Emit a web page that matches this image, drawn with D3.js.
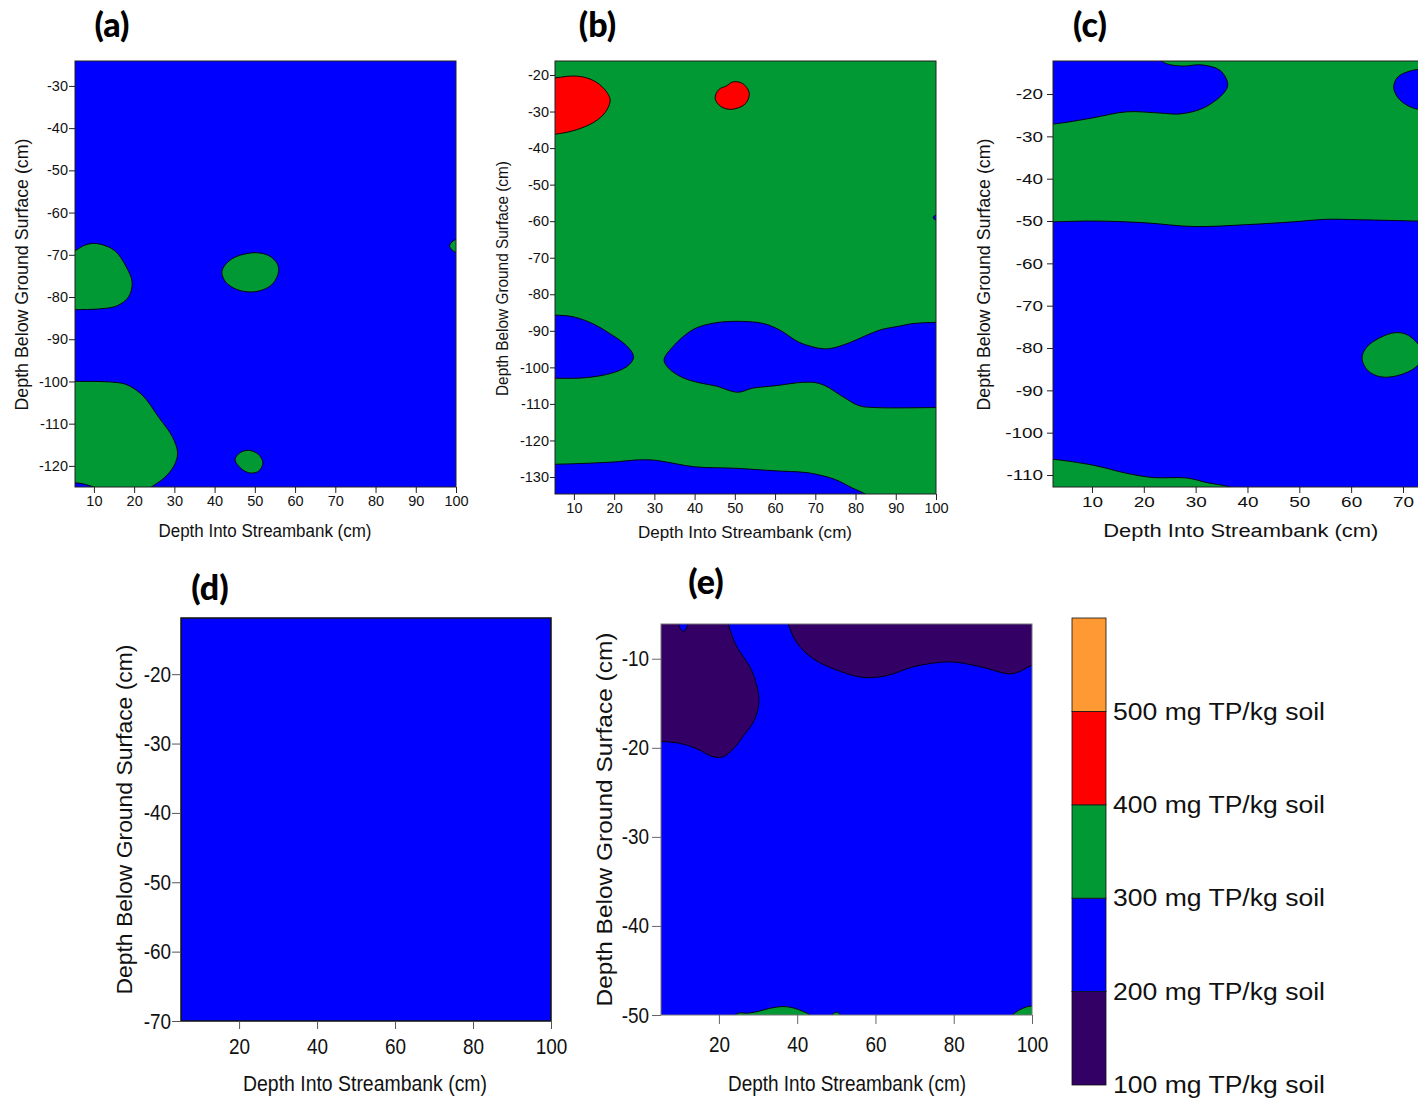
<!DOCTYPE html>
<html>
<head>
<meta charset="utf-8">
<script src="https://cdn.jsdelivr.net/npm/d3@7"></script>
<style>
  body { margin: 0; background: #fff; }
  svg text { font-family: "Liberation Sans", Arial, sans-serif; fill: #111; }
  svg .panelLabel { font-family: Lato, "Open Sans", sans-serif; font-weight: 900; fill: #000; }
</style>
</head>
<body>
<div id="chart"></div>
<script>
// Class colours (mg TP/kg soil)
const legendLevels = [100, 200, 300, 400, 500, 600];
const bandColors = ["#330066", "#0000ff", "#009933", "#ff0000", "#ff9933"];
const legendLabels = ["100 mg TP/kg soil", "200 mg TP/kg soil", "300 mg TP/kg soil", "400 mg TP/kg soil", "500 mg TP/kg soil"];

// Tick values
const aXTicks = [10, 20, 30, 40, 50, 60, 70, 80, 90, 100];
const aYTicks = [-30, -40, -50, -60, -70, -80, -90, -100, -110, -120];
const bXTicks = [10, 20, 30, 40, 50, 60, 70, 80, 90, 100];
const bYTicks = [-20, -30, -40, -50, -60, -70, -80, -90, -100, -110, -120, -130];
const cXTicks = [10, 20, 30, 40, 50, 60, 70];
const cYTicks = [-20, -30, -40, -50, -60, -70, -80, -90, -100, -110];
const dXTicks = [20, 40, 60, 80, 100];
const dYTicks = [-20, -30, -40, -50, -60, -70];
const eXTicks = [20, 40, 60, 80, 100];
const eYTicks = [-10, -20, -30, -40, -50];

// Contour regions: [depth into streambank (cm), depth below ground surface (cm)]
// panel (a)
const aGreenUpperLeft = [[2,-69.5],[5.3,-69],[7.5,-67.8],[10,-67.3],[13,-67.9],[15.5,-69.3],[18,-72.8],[19.5,-76.5],[18.6,-80],[15.7,-82.1],[11.6,-82.8],[5.3,-83],[2,-83]];
const aGreenMiddle = [[41.8,-74],[43.2,-71.8],[45.5,-70.4],[50,-69.5],[53.5,-70.2],[55.5,-72],[55.9,-74],[54.5,-76.8],[52,-78.3],[49,-78.8],[45.5,-78.2],[42.8,-76.5]];
const aGreenEdge = [[100,-66.4],[98.4,-67.9],[100,-69.4],[101.6,-67.9]];
const aGreenLowerLeft = [[2,-100],[5.3,-100],[10,-100],[15,-100.2],[18,-100.7],[22,-103.2],[26.2,-108.6],[29.5,-113.1],[30.8,-116.9],[29.9,-120],[27.4,-122.9],[24,-125.2],[22,-127]];
const aGreenLowerLeftClose = [[2,-128]];
const aBlueCorner = [[2,-123.9],[5.3,-124],[7,-124.2],[9,-124.7],[10.5,-125.3],[12,-126.5]];
const aBlueCornerClose = [[2,-128]];
const aGreenSmall = [[45.1,-118.5],[46.3,-116.9],[48.4,-116.3],[50.8,-117.2],[52,-119.2],[51,-121.2],[49,-121.7],[46.8,-120.8]];

// panel (b)
const bRedUpperLeft = [[2,-20.8],[5.3,-20.8],[8,-20.4],[10.6,-20.3],[14,-21.1],[17,-23.2],[19,-26.7],[17.8,-30.2],[15,-32.9],[10.6,-35],[6.7,-36],[5.3,-36.2],[2,-36.3]];
const bRedSmall = [[45.1,-26.4],[46,-24],[47.9,-23],[49.5,-21.9],[51.5,-22.1],[53,-23.5],[53.6,-25.4],[52.5,-28],[49.2,-29.4],[46.5,-28.6]];
const bBlueSpeck = [[100,-58.3],[99.3,-59],[100,-59.7],[100.7,-59]];
const bBlueLeft = [[2,-85.7],[5.3,-85.7],[10,-86.2],[15,-88.2],[19,-90.8],[22.5,-93.5],[24.5,-96],[24.8,-97.5],[23.5,-99.5],[21,-101],[17,-102.2],[12,-102.9],[5.3,-103],[2,-103]];
const bBlueMiddle = [[103,-87.7],[100,-87.7],[94.3,-88],[91,-88.7],[86,-89.8],[78.6,-93.2],[74.4,-94.7],[71.9,-94.9],[66.1,-93.2],[61.2,-89.8],[57.1,-88],[50.5,-87.4],[44.7,-87.9],[39.7,-89.6],[34.8,-94.1],[32.4,-98],[33.7,-100.4],[37,-102.8],[41.1,-104.2],[45.3,-105.1],[50.7,-106.8],[54.4,-105.7],[60.2,-105],[66.8,-104.1],[70.1,-104.2],[72.6,-105.1],[76.8,-108],[80.9,-110.5],[85,-111],[100,-111],[103,-111]];
const bBlueBottom = [[2,-126.5],[5.3,-126.5],[12,-126.3],[19.7,-125.9],[26.3,-125.3],[30,-125.4],[33,-125.9],[40,-127.2],[50,-127.6],[60,-128.3],[67,-128.7],[70,-129.2],[75,-130.7],[79.2,-133],[82.5,-134.7],[84,-136]];
const bBlueBottomClose = [[2,-137]];

// panel (c)
const cGreenUpper = [[0,-50.2],[2.5,-50.2],[10.3,-50],[20,-50.4],[29.6,-51.3],[39.2,-50.9],[48.8,-50.2],[55.2,-49.6],[61.6,-49.7],[72.6,-50],[75,-50]];
const cGreenUpperClose = [[75,-10],[0,-10]];
const cBlueTopLeft = [[22,-10],[23.5,-12.2],[24.5,-12.9],[27.6,-13.4],[31,-13.1],[34.7,-14.4],[36.2,-17.7],[35.4,-19.8],[31.5,-23.3],[27,-24.7],[23.1,-24.5],[16.7,-24.2],[10.3,-25.6],[5,-26.7],[2.5,-27.1],[0,-27.5]];
const cBlueTopLeftClose = [[0,-10]];
const cBlueTopRight = [[68.2,-18.3],[69,-16],[71,-14.7],[73.5,-14.2],[76,-15],[77,-18.5],[76,-22],[73.5,-23.6],[71,-22.8],[69,-20.8]];
const cGreenRight = [[62.1,-82.4],[63,-79.8],[65.5,-77.6],[68.3,-76.4],[70.5,-76.7],[72.5,-78.5],[74,-81.5],[72.5,-84.5],[69,-86.5],[65.7,-86.8],[63.2,-85.3]];
const cGreenBottom = [[0,-106.2],[2.5,-106.3],[10.3,-107.7],[16.7,-109.6],[21.8,-110.6],[28.3,-110.7],[32.2,-111.8],[36.7,-112.9],[38,-114]];
const cGreenBottomClose = [[0,-115]];

// panel (e)
const ePurpleLeft = [[21.5,-4],[22.4,-6.1],[24.5,-8.6],[27.9,-10.9],[29.6,-12.9],[30.2,-14.4],[30,-15.6],[28.8,-17.1],[26.2,-18.7],[23.7,-20.1],[21.1,-21],[18.5,-21],[14.3,-20.1],[10,-19.5],[5.2,-19.3],[3,-19.3]];
const ePurpleLeftClose = [[3,-4]];
const eBlueNotch = [[9.8,-5.5],[10.1,-6.6],[11,-6.95],[11.8,-6.5],[12,-5.5]];
const ePurpleRight = [[36.5,-4.5],[37.7,-6.1],[39.9,-8.2],[44.1,-10],[50.9,-11.4],[56.9,-12.1],[62.9,-11.9],[69.7,-10.9],[79.1,-10.35],[86.8,-10.9],[94.4,-11.7],[97,-11.4],[99.2,-10.9],[100.2,-10.7],[102,-10.5]];
const ePurpleRightClose = [[102,-4]];
const eGreenHill = [[23,-50.5],[24.5,-49.9],[25.3,-49.75],[27,-49.8],[30,-49.6],[33,-49.25],[36.4,-49.05],[39,-49.2],[41.5,-49.6],[43.3,-50],[44,-50.5]];
const eGreenBump = [[48.7,-50.5],[49.3,-49.8],[50.3,-49.7],[51,-50],[51.3,-50.5]];
const eGreenRight = [[94,-50.5],[95,-50],[96.5,-49.5],[98.5,-49.1],[100,-49],[102,-49]];
const eGreenRightClose = [[102,-51]];

const BLUE = bandColors[1], GREEN = bandColors[2], RED = bandColors[3], PURPLE = bandColors[0];

// Canvas
const svg = d3.select("#chart")
    .append("svg")
    .attr("width", 1418)
    .attr("height", 1102);

function stretch(sel, k) {
    sel.each(function() {
        const w = this.getComputedTextLength();
        d3.select(this).attr("textLength", w * k).attr("lengthAdjust", "spacingAndGlyphs");
    });
}

function drawPanel(p) {
    const g = svg.append("g");

    const xScale = d3.scaleLinear().domain(p.xDomain).range([p.box.left, p.box.right]);
    const yScale = d3.scaleLinear().domain(p.yDomain).range([p.box.bottom, p.box.top]);

    const clipId = "clip-" + p.id;
    g.append("clipPath").attr("id", clipId)
        .append("rect")
        .attr("x", p.box.left).attr("y", p.box.top)
        .attr("width", p.box.right - p.box.left)
        .attr("height", p.box.bottom - p.box.top);

    const plot = g.append("g").attr("clip-path", `url(#${clipId})`);

    plot.append("rect")
        .attr("x", p.box.left).attr("y", p.box.top)
        .attr("width", p.box.right - p.box.left)
        .attr("height", p.box.bottom - p.box.top)
        .attr("fill", p.base);

    const openLine = d3.line()
        .x(function(d) { return xScale(d[0]); })
        .y(function(d) { return yScale(d[1]); })
        .curve(d3.curveCatmullRom.alpha(0.5));
    const closedLine = d3.line()
        .x(function(d) { return xScale(d[0]); })
        .y(function(d) { return yScale(d[1]); })
        .curve(d3.curveCatmullRomClosed.alpha(0.5));

    p.regions.forEach(function(r) {
        if (r.closed) {
            plot.append("path")
                .attr("d", closedLine(r.pts))
                .attr("fill", r.color)
                .attr("stroke", "#000")
                .attr("stroke-width", 0.9);
        } else {
            const tail = (r.close || []).map(function(c) { return `L${xScale(c[0])},${yScale(c[1])}`; }).join("");
            plot.append("path")
                .attr("d", openLine(r.pts) + tail + "Z")
                .attr("fill", r.color)
                .attr("stroke", "none");
            plot.append("path")
                .attr("d", openLine(r.pts))
                .attr("fill", "none")
                .attr("stroke", "#000")
                .attr("stroke-width", 0.9);
        }
    });

    // frame
    g.append("rect")
        .attr("x", p.box.left).attr("y", p.box.top)
        .attr("width", p.box.right - p.box.left + (p.openRight ? 10 : 0))
        .attr("height", p.box.bottom - p.box.top)
        .attr("fill", "none")
        .attr("stroke", p.frameColor)
        .attr("stroke-width", p.frameWidth);

    // Axes
    const xAxis = g.append("g")
        .attr("transform", `translate(0,${p.box.bottom})`)
        .call(d3.axisBottom(xScale).tickValues(p.xTicks).tickSize(p.xTick[0]).tickPadding(p.xTick[1]).tickFormat(function(d) { return String(d); }));
    const yAxis = g.append("g")
        .attr("transform", `translate(${p.box.left},0)`)
        .call(d3.axisLeft(yScale).tickValues(p.yTicks).tickSize(p.yTick[0]).tickPadding(p.yTick[1]).tickFormat(function(d) { return String(d); }));

    [xAxis, yAxis].forEach(function(ax) {
        ax.select(".domain").remove();
        ax.selectAll("line").attr("stroke", p.tickColor);
        ax.selectAll("text")
            .attr("fill", "#111")
            .style("font-family", '"Liberation Sans", Arial, sans-serif')
            .style("font-size", p.tickFont + "px");
        stretch(ax.selectAll("text"), p.tickStretch);
    });

    // Axis titles
    g.append("text")
        .attr("x", p.xTitle[0]).attr("y", p.xTitle[1])
        .attr("dy", "0.35em")
        .attr("text-anchor", "middle")
        .style("font-size", p.titleFont + "px")
        .attr("textLength", p.xTitle[2]).attr("lengthAdjust", "spacingAndGlyphs")
        .text("Depth Into Streambank (cm)");

    g.append("text")
        .attr("transform", `translate(${p.yTitle[0]},${p.yTitle[1]}) rotate(-90)`)
        .attr("dy", "0.35em")
        .attr("text-anchor", "middle")
        .style("font-size", p.titleFont + "px")
        .attr("textLength", p.yTitle[2]).attr("lengthAdjust", "spacingAndGlyphs")
        .text("Depth Below Ground Surface (cm)");

    // Panel letter
    g.append("text")
        .attr("class", "panelLabel")
        .attr("x", p.label[0]).attr("y", p.label[1])
        .attr("text-anchor", "middle")
        .style("font-size", "34px")
        .text(p.letter);
}

drawPanel({
    id: "a", letter: "(a)", label: [112, 37],
    box: {left: 75, right: 456, top: 61, bottom: 487},
    xDomain: [5.3, 100], yDomain: [-125, -24.1],
    xTicks: aXTicks, yTicks: aYTicks,
    base: BLUE,
    regions: [
        {pts: aGreenUpperLeft, color: GREEN},
        {pts: aGreenMiddle, color: GREEN, closed: true},
        {pts: aGreenEdge, color: GREEN, closed: true},
        {pts: aGreenLowerLeft, close: aGreenLowerLeftClose, color: GREEN},
        {pts: aBlueCorner, close: aBlueCornerClose, color: BLUE},
        {pts: aGreenSmall, color: GREEN, closed: true}
    ],
    frameColor: "#222", frameWidth: 1,
    tickColor: "#222", tickFont: 14.5, tickStretch: 1,
    xTick: [6, 3], yTick: [6, 1],
    titleFont: 17.5,
    xTitle: [265, 531, 213], yTitle: [21.7, 274.5, 272]
});

drawPanel({
    id: "b", letter: "(b)", label: [597.5, 37],
    box: {left: 555, right: 936, top: 61, bottom: 494},
    xDomain: [5.3, 100], yDomain: [-134.65, -16.17],
    xTicks: bXTicks, yTicks: bYTicks,
    base: GREEN,
    regions: [
        {pts: bRedUpperLeft, color: RED},
        {pts: bRedSmall, color: RED, closed: true},
        {pts: bBlueSpeck, color: BLUE, closed: true},
        {pts: bBlueLeft, color: BLUE},
        {pts: bBlueMiddle, color: BLUE},
        {pts: bBlueBottom, close: bBlueBottomClose, color: BLUE}
    ],
    frameColor: "#222", frameWidth: 1,
    tickColor: "#222", tickFont: 14.5, tickStretch: 1,
    xTick: [6, 3], yTick: [5, 1],
    titleFont: 17,
    xTitle: [745, 532, 214], yTitle: [501.7, 278.5, 235]
});

drawPanel({
    id: "c", letter: "(c)", label: [1090, 37], openRight: true,
    box: {left: 1053, right: 1418, top: 61, bottom: 487},
    xDomain: [2.48, 72.9], yDomain: [-112.83, -12.2],
    xTicks: cXTicks, yTicks: cYTicks,
    base: BLUE,
    regions: [
        {pts: cGreenUpper, close: cGreenUpperClose, color: GREEN},
        {pts: cBlueTopLeft, close: cBlueTopLeftClose, color: BLUE},
        {pts: cBlueTopRight, color: BLUE, closed: true},
        {pts: cGreenRight, color: GREEN, closed: true},
        {pts: cGreenBottom, close: cGreenBottomClose, color: GREEN}
    ],
    frameColor: "#222", frameWidth: 1,
    tickColor: "#222", tickFont: 15.5, tickStretch: 1.22,
    xTick: [6, 3], yTick: [6, 4],
    titleFont: 18,
    xTitle: [1240.8, 531, 275], yTitle: [983.3, 274.5, 272]
});

drawPanel({
    id: "d", letter: "(d)", label: [210, 600],
    box: {left: 181, right: 551, top: 618, bottom: 1021},
    xDomain: [5.1, 100], yDomain: [-70, -11.9],
    xTicks: dXTicks, yTicks: dYTicks,
    base: BLUE,
    regions: [],
    frameColor: "#111", frameWidth: 1.5,
    tickColor: "#555", tickFont: 22, tickStretch: 0.86,
    xTick: [8, 9], yTick: [9, 1],
    titleFont: 22,
    xTitle: [365, 1083, 244], yTitle: [124, 819.5, 350]
});

drawPanel({
    id: "e", letter: "(e)", label: [706, 594],
    box: {left: 661, right: 1032, top: 624, bottom: 1015},
    xDomain: [5.2, 100], yDomain: [-50, -6.1],
    xTicks: eXTicks, yTicks: eYTicks,
    base: BLUE,
    regions: [
        {pts: ePurpleLeft, close: ePurpleLeftClose, color: PURPLE},
        {pts: eBlueNotch, color: BLUE, closed: true},
        {pts: ePurpleRight, close: ePurpleRightClose, color: PURPLE},
        {pts: eGreenHill, color: GREEN},
        {pts: eGreenBump, color: GREEN},
        {pts: eGreenRight, close: eGreenRightClose, color: GREEN}
    ],
    frameColor: "#777", frameWidth: 1,
    tickColor: "#666", tickFont: 22, tickStretch: 0.86,
    xTick: [9, 12], yTick: [9, 3],
    titleFont: 22,
    xTitle: [847, 1083, 238], yTitle: [604, 819.5, 374]
});

// Legend
const legendY = d3.scaleLinear()
    .domain([legendLevels[0], legendLevels[legendLevels.length - 1]])
    .range([1085, 618]);

const legend = svg.append("g");

legend.selectAll("rect")
    .data(bandColors)
    .enter()
    .append("rect")
        .attr("x", 1072)
        .attr("y", function(d, i) { return legendY(legendLevels[i + 1]); })
        .attr("width", 34)
        .attr("height", function(d, i) { return legendY(legendLevels[i]) - legendY(legendLevels[i + 1]); })
        .attr("fill", function(d) { return d; })
        .attr("stroke", "#111")
        .attr("stroke-width", 0.8);

legend.selectAll("text")
    .data(legendLabels)
    .enter()
    .append("text")
        .attr("x", 1113)
        .attr("y", function(d, i) { return legendY(legendLevels[i]); })
        .attr("dy", "0.36em")
        .style("font-size", "23px")
        .attr("textLength", 212)
        .attr("lengthAdjust", "spacingAndGlyphs")
        .text(function(d) { return d; });
</script>
</body>
</html>
